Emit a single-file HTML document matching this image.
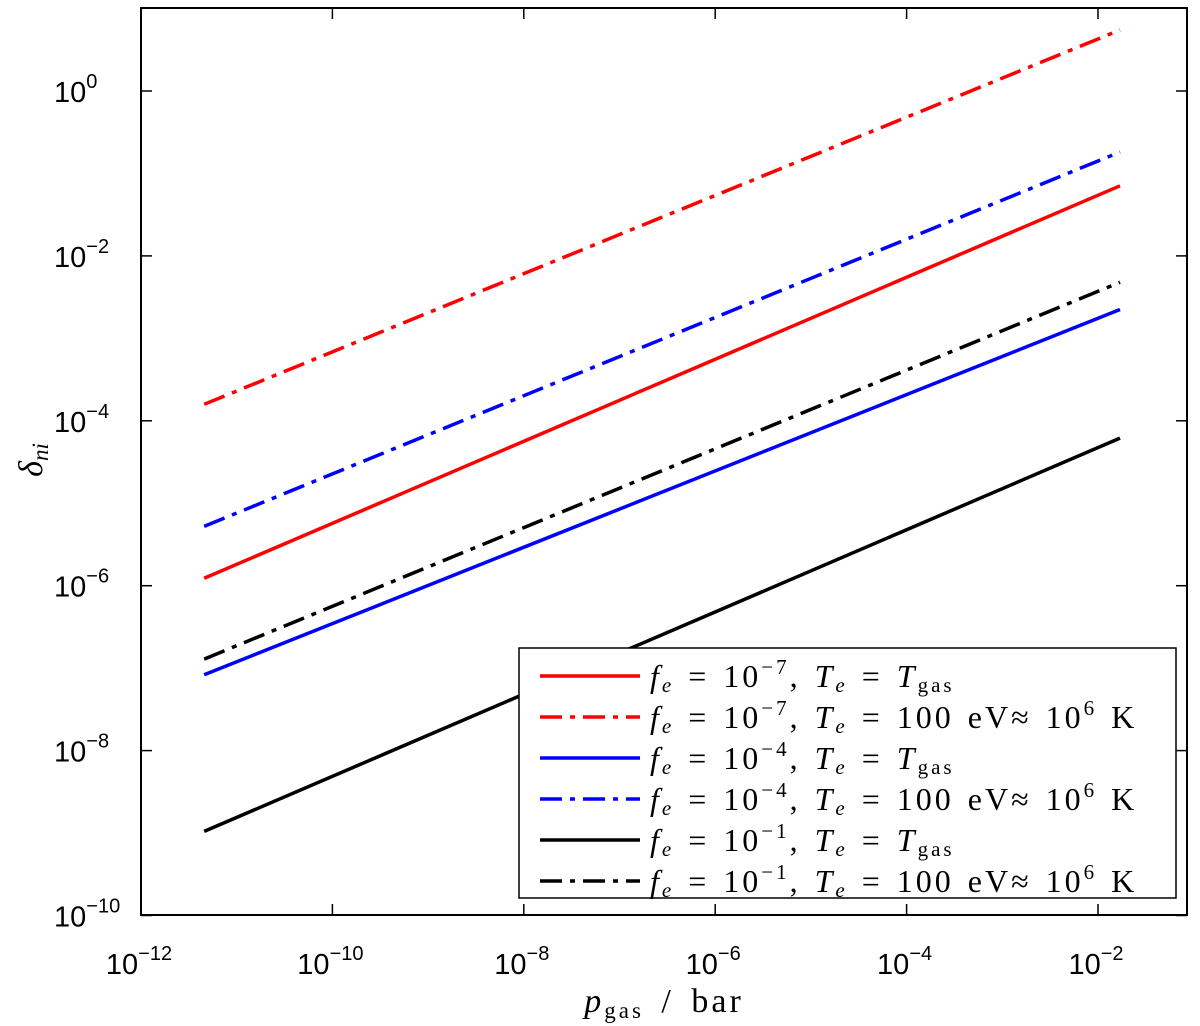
<!DOCTYPE html>
<html><head><meta charset="utf-8"><style>
body{margin:0;background:#fff;}
svg{display:block;font-family:"Liberation Sans",sans-serif;}
.serif{font-family:"Liberation Serif",serif;}
</style></head><body>
<svg id="chart" width="1200" height="1026" viewBox="0 0 1200 1026">
<rect x="0" y="0" width="1200" height="1026" fill="#fff"/>
<g id="series"></g>
<g id="axes"></g>
<g id="legend"></g>
</svg>
<script>
const xTicks = [-12, -10, -8, -6, -4, -2];
const yTicks = [0, -2, -4, -6, -8, -10];
const seriesNames = ["red-solid","red-dashdot","blue-solid","blue-dashdot","black-solid","black-dashdot"];
const seriesColors = ["#ff0000","#ff0000","#0000ff","#0000ff","#000000","#000000"];
const seriesDash = [false,true,false,true,false,true];
const xStartLog = [-11.34,-11.34,-11.34,-11.34,-11.34,-11.34];
const xEndLog = [-1.77,-1.77,-1.77,-1.77,-1.77,-1.77];
const yStartLog = [-5.91,-3.80,-7.08,-5.28,-8.98,-6.89];
const yEndLog = [-1.15,0.74,-2.65,-0.74,-4.21,-2.32];
const legendSup = ["−7","−7","−4","−4","−1","−1"];
const legendHot = [false,true,false,true,false,true];

const L=141,R=1187,T=8,B=915;
const X=v=>141+(v+12)*95.7;
const Y=v=>91-v*82.45;
const NS="http://www.w3.org/2000/svg";
function mk(tag,attrs,parent){const e=document.createElementNS(NS,tag);for(const k in attrs)e.setAttribute(k,attrs[k]);parent.appendChild(e);return e;}
const sg=document.getElementById('series'),ag=document.getElementById('axes'),lg=document.getElementById('legend');
const DASH="22 8 5 8";
for(let i=0;i<seriesNames.length;i++){
  const ln=mk('line',{x1:X(xStartLog[i]),y1:Y(yStartLog[i]),x2:X(xEndLog[i]),y2:Y(yEndLog[i]),stroke:seriesColors[i],'stroke-width':3.5,'stroke-dasharray':seriesDash[i]?DASH:'none'},sg);
  
  
}
const box=mk('rect',{x:L,y:T,width:R-L,height:B-T,fill:'none',stroke:'#000','stroke-width':2},ag);


xTicks.forEach(t=>{
  const x=X(t);
  mk('line',{x1:x,y1:B,x2:x,y2:B-11,stroke:'#000','stroke-width':1.5},ag);
  mk('line',{x1:x,y1:T,x2:x,y2:T+11,stroke:'#000','stroke-width':1.5},ag);
  const tx=mk('text',{x:x-2,y:974,'font-size':29,'text-anchor':'middle'},ag);
  tx.innerHTML='10<tspan dy="-14" font-size="20">−'+Math.abs(t)+'</tspan>';
  
  
});
yTicks.forEach(t=>{
  const y=Y(t);
  mk('line',{x1:L,y1:y,x2:L+11,y2:y,stroke:'#000','stroke-width':1.5},ag);
  mk('line',{x1:R,y1:y,x2:R-11,y2:y,stroke:'#000','stroke-width':1.5},ag);
  const tx=mk('text',{x:54,y:y+11,'font-size':29},ag);
  tx.innerHTML='10<tspan dy="-14" font-size="20">'+(t===0?'0':'−'+Math.abs(t))+'</tspan>';
  
  
});
const xt=mk('text',{x:664,y:1012,'font-size':34,'text-anchor':'middle','class':'serif','letter-spacing':'3','word-spacing':'6'},ag);
xt.innerHTML='<tspan font-style="italic">p</tspan><tspan font-size="23" dy="6">gas</tspan><tspan dy="-6"> / bar</tspan>';


const yt=mk('text',{x:0,y:0,'font-size':34,'text-anchor':'middle','class':'serif',transform:'translate(42,460) rotate(-90)'},ag);
yt.innerHTML='<tspan font-style="italic">δ</tspan><tspan font-style="italic" font-size="23" dy="6">ni</tspan>';


const lb=mk('rect',{x:519,y:648,width:657,height:250,fill:'#fff',stroke:'#000','stroke-width':1.5},lg);


for(let i=0;i<seriesNames.length;i++){
  const y=676+i*41;
  const g=mk('g',{},lg);
  
  
  mk('line',{x1:540,y1:y,x2:640,y2:y,stroke:seriesColors[i],'stroke-width':3.5,'stroke-dasharray':seriesDash[i]?DASH:'none'},g);
  const t=mk('text',{x:650,y:y+11,'font-size':32,'class':'serif','letter-spacing':'3','word-spacing':'3'},g);
  t.innerHTML='<tspan font-style="italic">f</tspan><tspan font-style="italic" font-size="21" dy="5">e</tspan><tspan dy="-5"> = 10</tspan><tspan font-size="21" dy="-13">'+legendSup[i]+'</tspan><tspan dy="13">, </tspan><tspan font-style="italic">T</tspan><tspan font-style="italic" font-size="21" dy="5">e</tspan><tspan dy="-5"> = </tspan>'+
   (legendHot[i]?'<tspan>100 eV≈ 10</tspan><tspan font-size="21" dy="-13">6</tspan><tspan dy="13"> K</tspan>':'<tspan font-style="italic">T</tspan><tspan font-size="21" dy="5">gas</tspan>');
}
</script>
</body></html>
